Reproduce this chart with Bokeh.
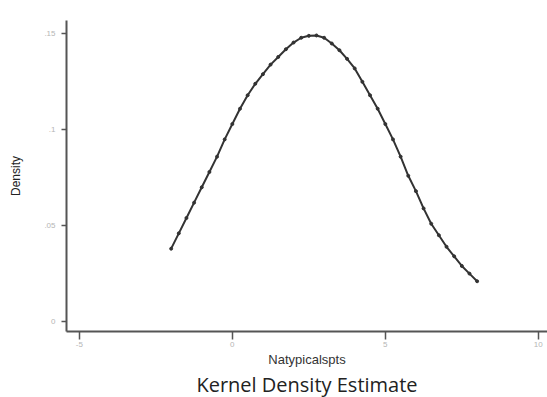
from bokeh.plotting import figure
from bokeh.models import Range1d, FixedTicker, Title
from bokeh.embed import file_html
from bokeh.resources import INLINE

# Kernel density estimate of Natypicalspts (grid points and density values)
grid_x = [-2.0, -1.75, -1.5, -1.25, -1.0, -0.75, -0.5, -0.25, 0.0, 0.25,
          0.5, 0.75, 1.0, 1.25, 1.5, 1.75, 2.0, 2.25, 2.5, 2.75,
          3.0, 3.25, 3.5, 3.75, 4.0, 4.25, 4.5, 4.75, 5.0, 5.25,
          5.5, 5.75, 6.0, 6.25, 6.5, 6.75, 7.0, 7.25, 7.5, 7.75, 8.0]
density = [0.038, 0.046, 0.054, 0.062, 0.070, 0.078, 0.086, 0.095, 0.103, 0.111,
           0.118, 0.124, 0.129, 0.134, 0.138, 0.142, 0.1455, 0.148, 0.149, 0.1492,
           0.148, 0.145, 0.1415, 0.137, 0.132, 0.125, 0.118, 0.111, 0.103, 0.095,
           0.086, 0.076, 0.068, 0.059, 0.051, 0.045, 0.039, 0.034, 0.029, 0.025, 0.021]

x_ticks = [-5, 0, 5, 10]
x_tick_labels = ["-5", "0", "5", "10"]
y_ticks = [0, 0.05, 0.1, 0.15]
y_tick_labels = ["0", ".05", ".1", ".15"]

x_title = "Natypicalspts"
y_title = "Density"
chart_title = "Kernel Density Estimate"

p = figure(width=547, height=397, output_backend="svg", toolbar_location=None,
           x_range=Range1d(-5.42, 10.3), y_range=Range1d(-0.0052, 0.157),
           min_border_left=66, min_border_right=0, min_border_top=20,
           min_border_bottom=66)

p.background_fill_color = "white"
p.border_fill_color = "white"
p.outline_line_color = None
p.grid.visible = False

line_col = "#333333"
p.line(grid_x, density, line_color=line_col, line_width=2)
p.scatter(grid_x, density, size=3, color=line_col)

for ax in (p.xaxis[0], p.yaxis[0]):
    ax.axis_line_color = "#555555"
    ax.axis_line_width = 2
    ax.major_tick_line_color = "#555555"
    ax.major_tick_line_width = 1.5
    ax.minor_tick_line_color = None
    ax.major_tick_in = 0
    ax.major_label_text_color = "#b5b5b5"
    ax.major_label_text_font = "Liberation Sans"
    ax.major_label_text_font_size = "8px"

p.xaxis.ticker = FixedTicker(ticks=x_ticks)
p.xaxis.major_label_overrides = dict(zip(x_ticks, x_tick_labels))
p.xaxis.major_tick_out = 8
p.xaxis.major_label_standoff = 2
p.xaxis.axis_label = x_title
p.xaxis.axis_label_text_font = "Liberation Sans"
p.xaxis.axis_label_text_font_style = "normal"
p.xaxis.axis_label_text_font_size = "13px"
p.xaxis.axis_label_text_color = "#333333"
p.xaxis.axis_label_standoff = 2

p.yaxis.ticker = FixedTicker(ticks=y_ticks)
p.yaxis.major_label_overrides = {t: s for t, s in zip(y_ticks, y_tick_labels)}
p.yaxis.major_tick_out = 5
p.yaxis.major_label_standoff = 6
p.yaxis.major_label_orientation = "horizontal"
p.yaxis.axis_label = y_title
p.yaxis.axis_label_text_font = "Liberation Sans"
p.yaxis.axis_label_text_font_style = "normal"
p.yaxis.axis_label_text_font_size = "12px"
p.yaxis.axis_label_text_color = "#222222"
p.yaxis.axis_label_standoff = 18

# chart title below the x-axis title
p.add_layout(Title(text=chart_title, align="center", text_font="Open Sans",
                   text_font_size="20px", text_font_style="normal",
                   text_color="#222222", standoff=-1), "below")

open("out.html", "w").write(file_html(p, INLINE))
